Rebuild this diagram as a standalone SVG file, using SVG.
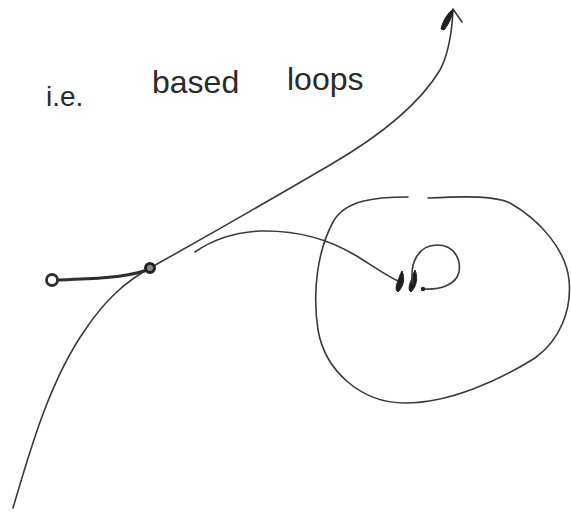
<svg xmlns="http://www.w3.org/2000/svg" width="571" height="513" viewBox="0 0 571 513">
<style>
.ln{fill:none;stroke:#3a3a3a;stroke-width:1.6;stroke-linecap:round;stroke-linejoin:round}
.thick{fill:none;stroke:#2e2e2e;stroke-width:3;stroke-linecap:round}
.ink{fill:#1e1e1e;stroke:#1e1e1e;stroke-width:1}
.txt{font-family:"Liberation Sans","DejaVu Sans",sans-serif;fill:#2a2a2a;font-weight:normal}
</style>
<rect width="571" height="513" fill="#ffffff"/>
<g id="labels">
<text class="txt" x="46" y="106" font-size="28">i.e.</text>
<text class="txt" x="152" y="93" font-size="32">based</text>
<text class="txt" x="287" y="90" font-size="32">loops</text>
</g>
<g id="connectors">
<path id="path-main" class="ln" d="M 13,508 C 30,450 50,380 85,330 C 105,300 125,282 150,268 C 200,240 270,200 330,165 C 385,133 422,100 440,70 C 448,55 452,30 453,10"/>
<path id="arrow-top" class="ink" d="M 441,29 C 443,20 448,13 453,9 C 453,15 449,24 444,30 Z"/>
<path class="ln" d="M 453,9 L 462,22"/>
<path id="path-start" class="thick" d="M 58,280 C 90,279 125,278 147,270"/>
<path id="path-loop-arrow" class="ln" d="M 195,252 C 215,238 240,232 260,231 C 300,230 330,240 355,255 C 370,264 385,275 398,281"/>
<path id="loop-arrow-head" class="ink" d="M 402,271 C 405,278 404,286 398,292 C 395,290 396,285 398,281 C 399,278 400,274 402,271 Z M 415,270 C 418,277 417,286 411,292 C 408,290 409,285 411,281 C 412,277 413,274 415,270 Z"/>
</g>
<g id="node-start">
<circle cx="52" cy="280" r="5.5" fill="#ffffff" stroke="#2e2e2e" stroke-width="2.8"/>
</g>
<g id="node-base">
<circle cx="150" cy="268" r="4.5" fill="#8a8a8a" stroke="#222" stroke-width="3"/>
</g>
<g id="node-loop">
<path class="ln" d="M 413,284 C 409,264 418,245 437,245 C 455,245 461,260 459,272 C 456,285 440,290 424,289"/>
<circle cx="423" cy="289" r="2.2" fill="#1e1e1e"/>
</g>
<g id="region">
<path class="ln" d="M 408,197 C 375,197 345,200 333,222 C 318,250 312,290 318,330 C 325,370 360,403 405,403 C 450,403 500,380 535,358 C 560,340 572,310 569,280 C 566,250 540,220 510,203 C 495,196 470,196 428,198"/>
</g>
</svg>
